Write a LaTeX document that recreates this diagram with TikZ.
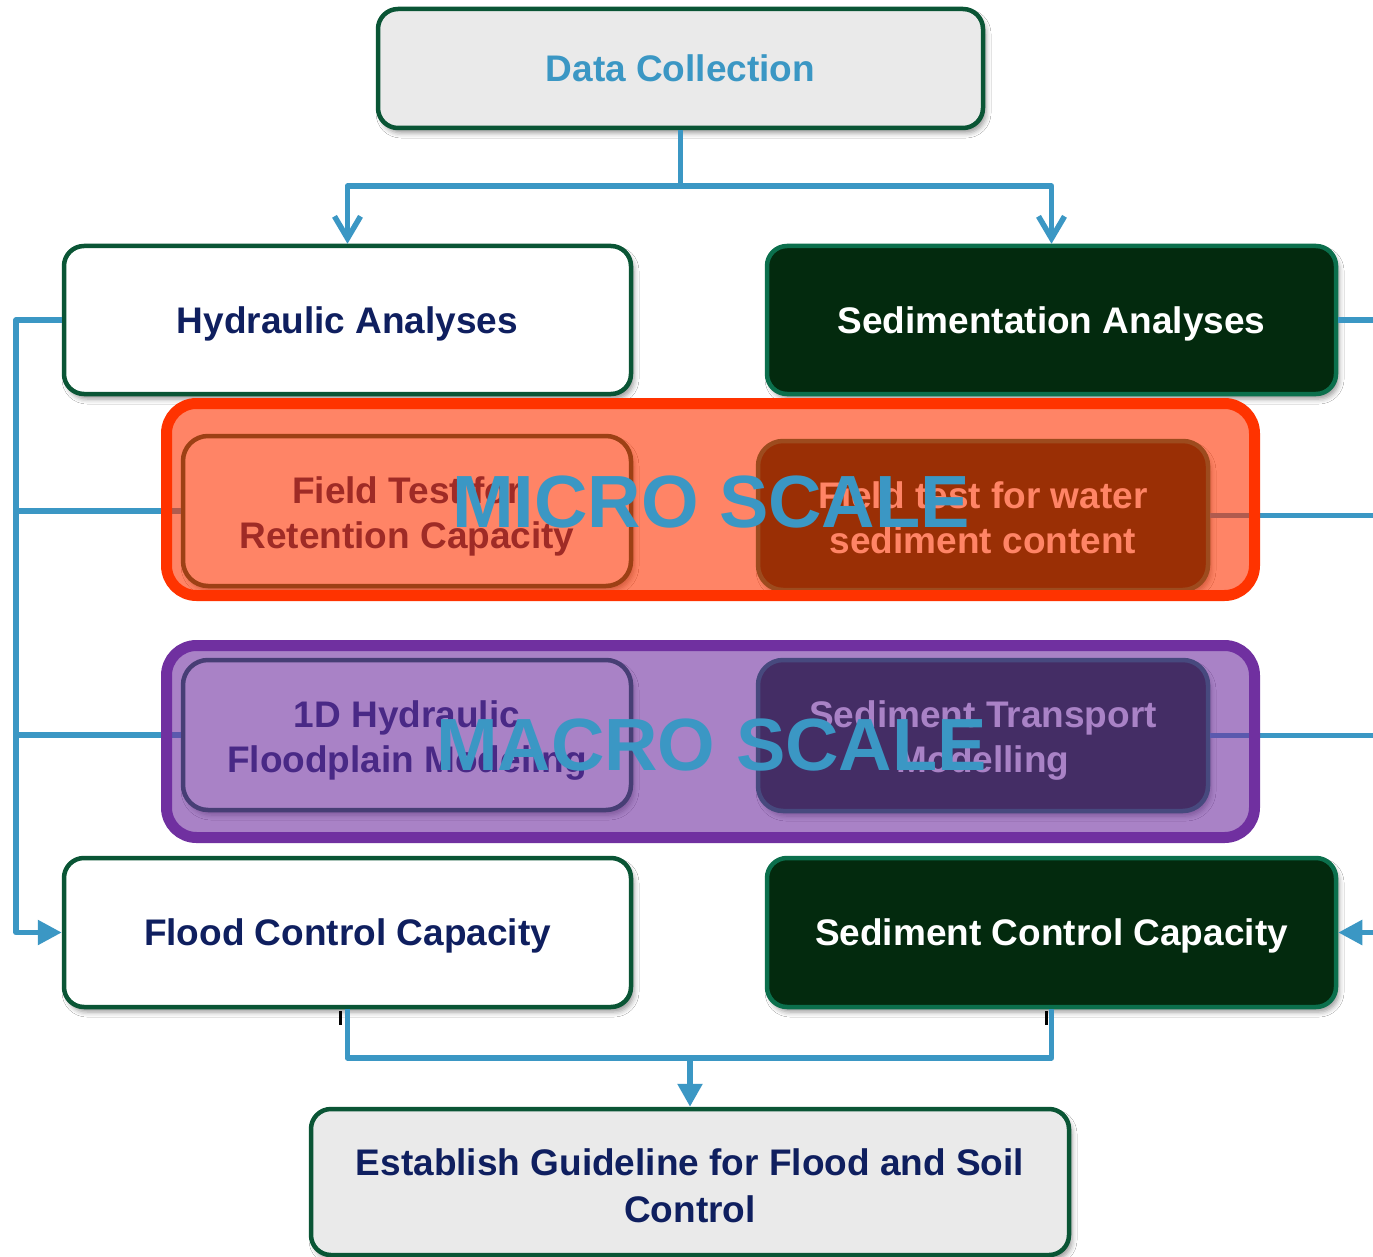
\documentclass[tikz,border=0pt]{standalone}
\usepackage{fontspec}
\setmainfont{Liberation Sans}
\usetikzlibrary{arrows.meta,shadows.blur,calc}

\definecolor{connc}{HTML}{3B97C4}
\definecolor{gborder}{HTML}{0A5535}
\definecolor{gborder2}{HTML}{0B6F4C}
\definecolor{dkfill}{HTML}{032A0E}
\definecolor{ltfill}{HTML}{EAEAEA}
\definecolor{navy}{HTML}{0F1F5F}
\definecolor{microc}{HTML}{FF3300}
\definecolor{macroc}{HTML}{7030A0}

\tikzset{
  box/.style={rounded corners=20pt, line width=4.5pt, inner sep=0pt, align=center,
    font=\fontsize{37}{45}\selectfont\bfseries,
    blur shadow={shadow xshift=3pt, shadow yshift=-5pt, shadow blur radius=5pt, shadow opacity=40}},
  whitebox/.style={box, draw=gborder, fill=white, text=navy},
  darkbox/.style={box, draw=gborder2, fill=dkfill, text=white},
  greybox/.style={box, draw=gborder, fill=ltfill},
  innerbox/.style={rounded corners=25pt},
  one/.style={text height=26.5pt, text depth=0pt},
  two/.style={text height=#1, text depth=0pt},
  two/.default=75pt,
  connline/.style={draw=connc, line width=5.5pt, line join=round},
  scalebox/.style={rounded corners=30pt, line width=11pt, fill opacity=0.6, inner sep=0pt},
  scaletext/.style={font=\fontsize{74}{80}\selectfont\bfseries, text=connc, inner sep=0pt},
  barb/.style={-{Straight Barb[length=22pt,width=26pt]}},
  tri/.style={-{Triangle[length=24pt,width=24pt]}}
}

\begin{document}
\begin{tikzpicture}[x=1pt,y=-1pt]
\useasboundingbox (0,0) rectangle (1373,1257);
\clip (0,0) rectangle (1373,1257);
\fill[white] (0,0) rectangle (1373,1257);

% boxes
\node[greybox, minimum width=605pt, minimum height=119pt, text=connc, one] (dc) at (680.5,68.5) {Data Collection};
\node[whitebox, minimum width=567pt, minimum height=148pt, one] (ha) at (347.5,320) {Hydraulic Analyses};
\node[darkbox, minimum width=569pt, minimum height=148pt, one] (sa) at (1051.5,320) {Sedimentation Analyses};

\node[whitebox, innerbox, minimum width=448pt, minimum height=150pt, two=75pt] (ft) at (407,511) {Field Test for\\Retention Capacity};
\node[darkbox, innerbox, minimum width=450pt, minimum height=149pt, two=75.1pt] (fw) at (983,515.5) {Field test for water\\sediment content};
\node[whitebox, innerbox, minimum width=448pt, minimum height=150pt, two=75.5pt] (hd) at (407,735) {1D Hydraulic\\Floodplain Modeling};
\node[darkbox, innerbox, minimum width=450pt, minimum height=151pt, two=73.5pt] (st) at (983,735.5) {Sediment Transport\\Modelling};

\node[whitebox, minimum width=567pt, minimum height=149pt, one] (fc) at (347.5,932.5) {Flood Control Capacity};
\node[darkbox, minimum width=569pt, minimum height=149pt, one] (sc) at (1051.5,932.5) {Sediment Control Capacity};
\node[greybox, text=navy, font=\fontsize{37}{47.5}\selectfont\bfseries, minimum width=758pt, minimum height=146pt, two=81.5pt] (eg) at (690,1182) {Establish Guideline for Flood and Soil\\Control};

% connectors
\coordinate (j1) at (680.5,186);
\coordinate (j2) at (690,1058);
\coordinate (lx) at (16,0);
\coordinate (rx) at (1400,0);

\draw[connline] (dc.south) -- (j1);
\draw[connline, barb] (j1) -| (ha.north);
\draw[connline, barb] (j1) -| (sa.north);

\draw[connline, tri] (ha.west) -- (ha.west -| lx) |- (fc.west);
\draw[connline] (ft.west -| lx) -- (ft.west);
\draw[connline] (hd.west -| lx) -- (hd.west);

\draw[connline, tri] (sa.east) -- (sa.east -| rx) |- (sc.east);
\draw[connline] (fw.east) -- (fw.east -| rx);
\draw[connline] (st.east) -- (st.east -| rx);

\draw[black, line width=3pt] ($(fc.south)+(-7,2)$) -- ++(0,14);
\draw[black, line width=3pt] ($(sc.south)+(-5,2)$) -- ++(0,14);
\draw[connline] (fc.south) -- (fc.south |- j2) -- (sc.south |- j2) -- (sc.south);
\draw[connline, -{Triangle[length=23pt,width=24pt]}] (j2) -- (eg.north);

% scale overlays
\node[scalebox, draw=microc, fill=microc, minimum width=1088pt, minimum height=192pt] (micro) at (710.5,499.5) {};
\node[scalebox, draw=macroc, fill=macroc, minimum width=1088pt, minimum height=192pt] (macro) at (710.5,741.5) {};
\node[scaletext] (mict) at (711,502) {MICRO SCALE};
\node[scaletext] (mact) at (711.5,745) {MACRO SCALE};
\end{tikzpicture}
\end{document}
